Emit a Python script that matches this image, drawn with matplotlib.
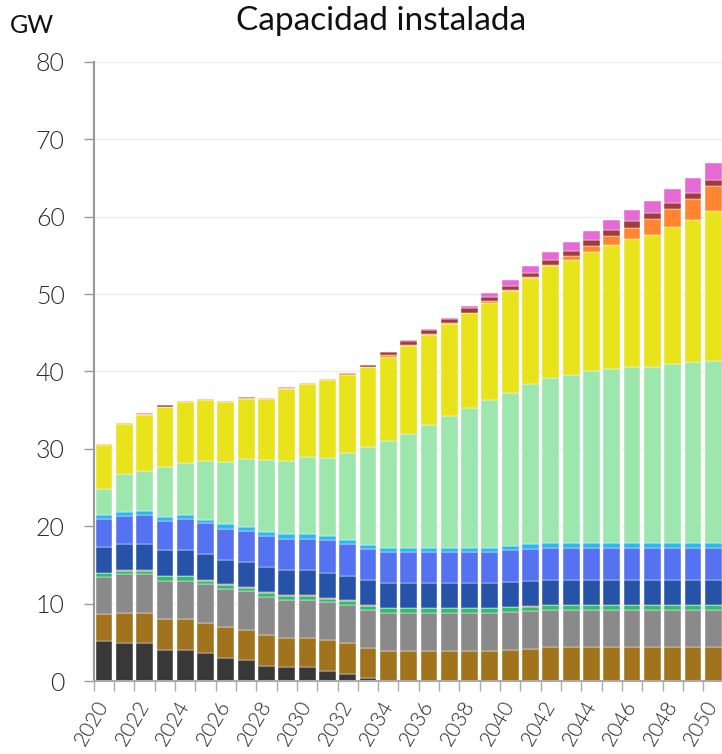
import numpy as np
import matplotlib
matplotlib.use("Agg")
import matplotlib.pyplot as plt

plt.rcParams['font.family'] = ['Lato', 'DejaVu Sans']

# Years on the x axis
years = list(range(2020, 2051))

# Installed capacity per technology (GW), stacked bottom to top
coal = [5.2, 4.9, 4.9, 4.05, 4.05, 3.6, 3.0, 2.7, 2.0, 1.75, 1.75, 1.3, 0.95, 0.35,
        0, 0, 0, 0, 0, 0, 0, 0, 0, 0, 0, 0, 0, 0, 0, 0, 0]
hydro = [3.4, 3.95, 3.95, 4.0, 4.0, 3.95, 3.95, 3.95, 3.9, 3.85, 3.85, 3.95, 3.9, 3.95,
         3.9, 3.9, 3.9, 3.9, 3.9, 3.9, 4.0, 4.15, 4.35, 4.35, 4.35, 4.35, 4.35, 4.35, 4.35, 4.35, 4.35]
gas = [4.8, 4.95, 4.95, 4.87, 4.87, 4.94, 4.95, 4.95, 4.9, 4.9, 4.9, 4.93, 4.93, 4.85,
       4.88, 4.88, 4.88, 4.88, 4.88, 4.88, 4.92, 4.96, 4.87, 4.87, 4.87, 4.87, 4.87, 4.87, 4.87, 4.87, 4.87]
bio = [0.5, 0.4, 0.45, 0.6, 0.6, 0.4, 0.5, 0.45, 0.6, 0.55, 0.55, 0.4, 0.53, 0.56,
       0.6, 0.6, 0.6, 0.6, 0.6, 0.6, 0.61, 0.5, 0.56, 0.56, 0.56, 0.56, 0.56, 0.56, 0.56, 0.56, 0.56]
other = [0.1, 0.1, 0.15, 0.05, 0.05, 0.15, 0.1, 0.05, 0.05, 0.05, 0.05, 0.15, 0.1, 0.07,
         0.04, 0.04, 0.04, 0.04, 0.04, 0.04, 0.07, 0.14, 0.09, 0.09, 0.09, 0.09, 0.09, 0.09, 0.09, 0.09, 0.09]
ccgt = [3.3, 3.4, 3.3, 3.3, 3.3, 3.35, 3.2, 3.3, 3.25, 3.3, 3.3, 3.25, 3.2, 3.3,
        3.28, 3.28, 3.28, 3.28, 3.28, 3.28, 3.2, 3.16, 3.19, 3.19, 3.19, 3.19, 3.19, 3.19, 3.19, 3.19, 3.19]
wind_on = [3.7, 3.6, 3.8, 3.75, 4.05, 4.0, 4.0, 4.0, 4.05, 4.0, 4.0, 4.2, 4.1, 4.0,
           4.0, 4.0, 4.0, 4.0, 4.0, 4.0, 4.14, 4.17, 4.18, 4.18, 4.18, 4.18, 4.18, 4.18, 4.18, 4.18, 4.18]
pumped = [0.5, 0.6, 0.5, 0.6, 0.5, 0.4, 0.6, 0.55, 0.55, 0.6, 0.6, 0.5, 0.5, 0.5,
          0.55, 0.55, 0.55, 0.55, 0.55, 0.55, 0.56, 0.6, 0.56, 0.56, 0.56, 0.56, 0.56, 0.56, 0.56, 0.56, 0.56]
solar_pv = [3.3, 4.8, 5.2, 6.4, 6.8, 7.7, 8.0, 8.75, 9.2, 9.4, 9.9, 10.2, 11.2, 12.6,
            13.75, 14.7, 15.85, 16.95, 18.05, 19.05, 19.7, 20.7, 21.3, 21.77, 22.24, 22.5, 22.76, 22.8, 23.15, 23.4, 23.6]
wind = [5.7, 6.5, 7.2, 7.8, 7.8, 7.8, 7.8, 7.8, 8.0, 9.4, 9.5, 10.0, 10.2, 10.4,
        10.9, 11.35, 11.6, 11.9, 12.2, 12.6, 13.25, 13.74, 14.5, 14.83, 15.36, 16.05, 16.54, 17.1, 17.75, 18.35, 19.3]
storage = [0.12, 0.12, 0.15, 0.05, 0.12, 0.1, 0.12, 0.05, 0.1, 0.12, 0.12, 0.1, 0.2, 0.05,
           0.17, 0.15, 0.1, 0.15, 0.1, 0.15, 0.1, 0.1, 0.15, 0.5, 0.8, 1.15, 1.5, 2.0, 2.35, 2.75, 3.3]
batteries = [0, 0, 0, 0.15, 0, 0.1, 0, 0.1, 0, 0, 0, 0.05, 0, 0.2,
             0.4, 0.55, 0.55, 0.55, 0.6, 0.6, 0.55, 0.5, 0.7, 0.7, 0.75, 0.75, 0.8, 0.75, 0.75, 0.75, 0.7]
offshore = [0.03, 0.03, 0.05, 0, 0.03, 0, 0.03, 0, 0.02, 0.03, 0.03, 0, 0.05, 0,
            0.04, 0.1, 0.1, 0.15, 0.2, 0.45, 0.7, 0.9, 0.95, 1.1, 1.2, 1.35, 1.5, 1.6, 1.75, 1.95, 2.2]

series = [coal, hydro, gas, bio, other, ccgt, wind_on, pumped,
          solar_pv, wind, storage, batteries, offshore]
colors = ['#383838', '#a0731c', '#8a8a8a', '#2fbf6a', '#e05050', '#2652a8', '#5572f0',
          '#29b8f0', '#9de6ad', '#e8e31a', '#ff8533', '#a03c3c', '#e66ad6']

fig = plt.figure(figsize=(7.22, 7.54), dpi=100)
ax = fig.add_axes([0.130, 0.0968, 0.872, 0.821])

x = np.arange(len(years))
bottom = np.zeros(len(years))
for vals, col in zip(series, colors):
    vals = np.array(vals, dtype=float)
    ax.bar(x, vals, bottom=bottom, width=0.83, color=col,
           edgecolor='white', linewidth=0.3, zorder=2)
    bottom += vals

ax.set_ylim(0, 80)
ax.set_xlim(-0.5, len(years) - 0.5)
ax.set_yticks(range(0, 81, 10))
ax.set_yticklabels([str(v) for v in range(0, 81, 10)], fontsize=18,
                   fontweight=300, color='#2a2a2a')
ax.tick_params(axis='y', color='#999999', length=7, width=1, pad=14)
ax.grid(axis='y', color='#eeeeee', linewidth=1, zorder=0)

# year ticks at band boundaries, labels every other year
ax.set_xticks(np.arange(-0.5, len(years), 1.0), minor=True)
ax.tick_params(axis='x', which='minor', length=7, width=1, color='#aaaaaa')
ax.set_xticks(x[::2])
ax.set_xticklabels([str(y) for y in years[::2]], rotation=60, ha='right',
                   va='center', rotation_mode='anchor', fontsize=15,
                   fontweight=300, color='#2a2a2a')
ax.tick_params(axis='x', which='major', length=0, pad=15)

for side in ['top', 'right']:
    ax.spines[side].set_visible(False)
ax.spines['left'].set_color('#999999')
ax.spines['left'].set_linewidth(1.5)
ax.spines['bottom'].set_color('#aaaaaa')
ax.spines['bottom'].set_linewidth(1.5)

fig.text(0.528, 0.972, 'Capacidad instalada', ha='center', va='center',
         fontsize=24, color='#111111')
fig.text(0.014, 0.966, 'GW', ha='left', va='center', fontsize=18, color='#111111')

fig.savefig('out.png', dpi=100)
